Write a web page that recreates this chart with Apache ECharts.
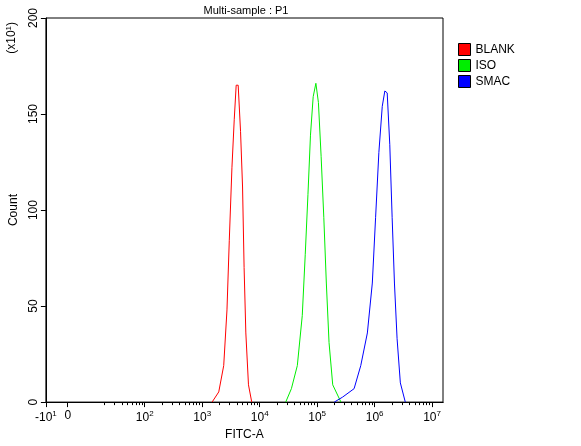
<!DOCTYPE html>
<html><head><meta charset="utf-8">
<script src="https://cdn.jsdelivr.net/npm/echarts@6/dist/echarts.min.js"></script>
<style>body{margin:0;background:#fff}#main{width:581px;height:446px}</style>
</head><body><div id="main"></div>
<script>
// x values are in display units: 10^k sits at k, "0" at 0.66, "-10^1" at 0.28
var blank = [[3.172,0],[3.288,5.3],[3.374,19],[3.431,48],[3.471,84],[3.517,122],[3.557,147],[3.591,165],[3.626,165],[3.667,141],[3.702,112],[3.729,70],[3.759,36],[3.805,9],[3.862,0]];
var iso = [[4.453,0],[4.552,7],[4.655,19],[4.741,45],[4.793,77],[4.840,108],[4.884,139],[4.931,159],[4.978,166],[5.022,156],[5.069,128],[5.116,96],[5.160,62],[5.207,31],[5.271,9],[5.414,0]];
var smac = [[5.298,0],[5.443,2.6],[5.643,7],[5.759,19],[5.874,36],[5.960,62],[6.017,96],[6.074,130],[6.133,154],[6.178,162],[6.219,161],[6.264,134],[6.305,96],[6.345,62],[6.391,33],[6.448,10],[6.534,0]];
var tickPos = [0.28, 0.66, 2, 3, 4, 5, 6, 7];
var tickText = ['-10{s|1}', '0', '10{s|2}', '10{s|3}', '10{s|4}', '10{s|5}', '10{s|6}', '10{s|7}'];

var minor = [];
for (var d = 1; d < 7; d++) for (var k = 2; k <= 9; k++) minor.push(d + Math.log10(k));

var myChart = echarts.init(document.getElementById('main'));
var font = 'Liberation Sans';
var xBase = {
    type: 'value', min: 0.28, max: 7.19, position: 'bottom',
    splitLine: {show: false},
    axisLine: {lineStyle: {color: '#000'}}
};
var option = {
    animation: false,
    textStyle: {fontFamily: font},
    title: {text: 'Multi-sample : P1', left: 241, top: 0, textAlign: 'center',
        textStyle: {fontSize: 11, fontWeight: 'normal', color: '#000', fontFamily: font}},
    graphic: [{type: 'text', left: 5, top: 22, rotation: Math.PI / 2,
        style: {text: '(x10{s|1})', fill: '#000', font: '12px Liberation Sans',
            rich: {s: {fontSize: 8, verticalAlign: 'top', padding: [0, 0, 6, 0]}}}}],
    legend: {
        orient: 'vertical', left: 453, top: 38, itemGap: 3, itemWidth: 12, itemHeight: 12,
        icon: 'rect', data: ['BLANK', 'ISO', 'SMAC'],
        textStyle: {fontSize: 12, color: '#000', fontFamily: font},
        itemStyle: {borderColor: '#000', borderWidth: 1}
    },
    grid: {left: 40, right: 138, top: 18, bottom: 39, show: true, borderColor: '#000', borderWidth: 1},
    xAxis: [
        Object.assign({}, xBase, {
            name: 'FITC-A', nameLocation: 'middle', nameGap: 26,
            nameTextStyle: {color: '#000', fontSize: 12, fontFamily: font},
            axisTick: {customValues: tickPos, length: 5, lineStyle: {color: '#000'}},
            axisLabel: {customValues: tickPos, color: '#000', fontSize: 12, margin: 8,
                formatter: function (v) { return tickText[tickPos.indexOf(v)]; },
                rich: {s: {fontSize: 8, verticalAlign: 'top', padding: [0, 0, 8, 0]}}}
        }),
        Object.assign({}, xBase, {
            axisTick: {customValues: minor, length: 3, lineStyle: {color: '#000'}},
            axisLabel: {show: false}
        })
    ],
    yAxis: {
        type: 'value', min: 0, max: 200, interval: 50,
        name: 'Count', nameLocation: 'middle', nameGap: 24,
        nameTextStyle: {color: '#000', fontSize: 12, fontFamily: font},
        splitLine: {show: false},
        axisLine: {show: true, lineStyle: {color: '#000'}},
        axisTick: {show: true, length: 5, lineStyle: {color: '#000'}},
        axisLabel: {color: '#000', fontSize: 12, rotate: 90, margin: 6}
    },
    series: [
        {name: 'BLANK', type: 'line', data: blank, showSymbol: false, color: '#ff0000', lineStyle: {width: 1}},
        {name: 'ISO', type: 'line', data: iso, showSymbol: false, color: '#00ee00', lineStyle: {width: 1}},
        {name: 'SMAC', type: 'line', data: smac, showSymbol: false, color: '#0000ff', lineStyle: {width: 1}}
    ]
};
myChart.setOption(option);
</script></body></html>
